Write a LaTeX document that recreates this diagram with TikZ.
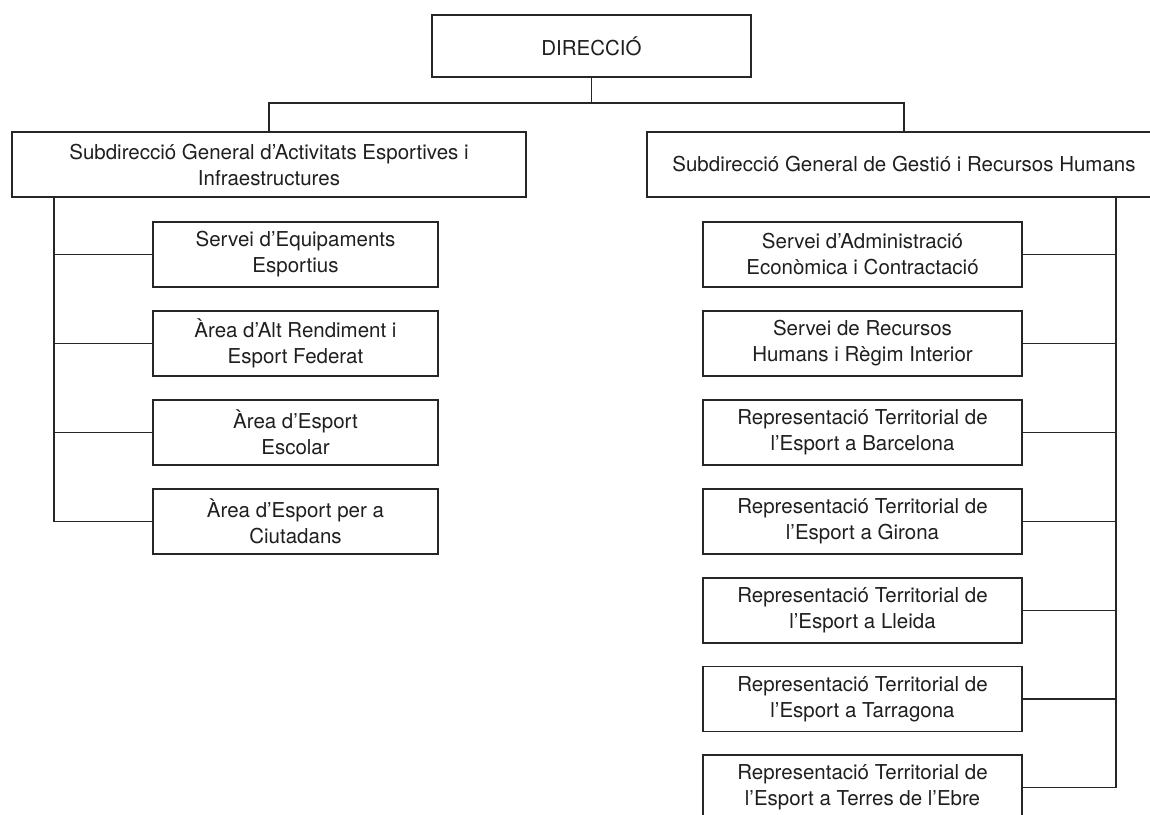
\documentclass[tikz,border=0pt]{standalone}
\usepackage{fontspec}
\setmainfont{TeX Gyre Heros}
\begin{document}
\begin{tikzpicture}[x=1pt,y=-1pt,
  orgbox/.style={draw=black!85, line width=1.2pt, inner sep=0pt, align=center,
    font=\fontsize{20.5}{26}\selectfont, text=black!88},
  small/.style={orgbox, minimum width=285pt, minimum height=65pt},
  wide/.style={orgbox, minimum width=319pt, minimum height=65pt},
  link/.style={draw=black!85, line width=1.2pt}]
\useasboundingbox[fill=white] (0,0) rectangle (1150,814);

\node[orgbox, minimum width=319pt, minimum height=62pt] (dir) at (591.5,46) {DIRECCIÓ};
\node[orgbox, minimum width=514pt, minimum height=65pt] (subA) at (269,164.5)
  {Subdirecció General d’Activitats Esportives i\\Infraestructures};
\node[orgbox, minimum width=514pt, minimum height=65pt] (subB) at (904,164.5)
  {Subdirecció General de Gestió i Recursos Humans};

\node[small] (a1) at (295.5,254.5) {Servei d’Equipaments\\Esportius};
\node[small] (a2) at (295.5,343.5) {Àrea d’Alt Rendiment i\\Esport Federat};
\node[small] (a3) at (295.5,432.5) {Àrea d’Esport\\Escolar};
\node[small] (a4) at (295.5,521.5) {Àrea d’Esport per a\\Ciutadans};

\node[wide] (b1) at (862.5,254.5) {Servei d’Administració\\Econòmica i Contractació};
\node[wide] (b2) at (862.5,343.5) {Servei de Recursos\\Humans i Règim Interior};
\node[wide] (b3) at (862.5,432.5) {Representació Territorial de\\l’Esport a Barcelona};
\node[wide] (b4) at (862.5,521.5) {Representació Territorial de\\l’Esport a Girona};
\node[wide] (b5) at (862.5,610.5) {Representació Territorial de\\l’Esport a Lleida};
\node[wide] (b6) at (862.5,699) {Representació Territorial de\\l’Esport a Tarragona};
\node[wide] (b7) at (862.5,787.5) {Representació Territorial de\\l’Esport a Terres de l’Ebre};

\coordinate (bus) at (591.5,103);
\coordinate (lv) at (54,197);
\coordinate (rv) at (1116,197);

\draw[link] (dir.south) -- (bus);
\draw[link] (subA.north) -- (subA.north |- bus) -- (subB.north |- bus) -- (subB.north);

\draw[link] (subA.south -| lv) -- (lv |- a4.west);
\foreach \n in {a1,a2,a3,a4} \draw[link] (lv |- \n.west) -- (\n.west);

\draw[link] (subB.south -| rv) -- (rv |- b7.east);
\foreach \n in {b1,b2,b3,b4,b5,b6,b7} \draw[link] (\n.east) -- (rv |- \n.east);
\end{tikzpicture}
\end{document}
